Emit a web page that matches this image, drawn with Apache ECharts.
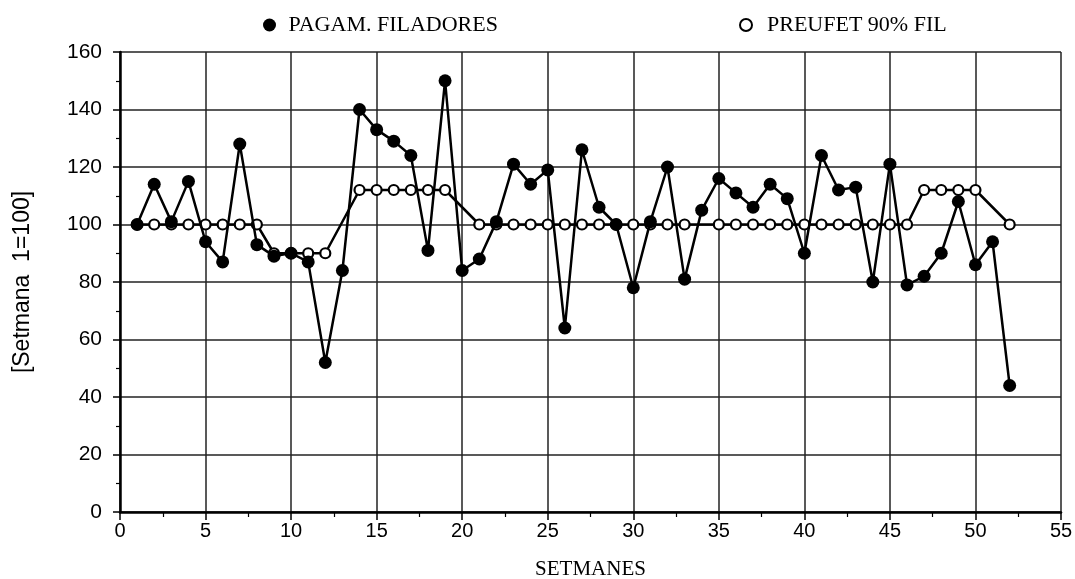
<!DOCTYPE html>
<html>
<head>
<meta charset="utf-8">
<script src="https://cdn.jsdelivr.net/npm/echarts@6/dist/echarts.min.js"></script>
<style>html,body{margin:0;padding:0;background:#fff}#c{width:1075px;height:579px}</style>
</head>
<body>
<div id="c"></div>
<script>
const weeks = [];
for (let i = 1; i <= 52; i++) weeks.push(i);
const pagamFiladores = [100,114,101,115,94,87,128,93,89,90,87,52,84,140,133,129,124,91,150,84,88,101,121,114,119,64,126,106,100,78,101,120,81,105,116,111,106,114,109,90,124,112,113,80,121,79,82,90,108,86,94,44];
const preufet90 = [100,100,100,100,100,100,100,100,90,90,90,90,null,112,112,112,112,112,112,null,100,100,100,100,100,100,100,100,100,100,100,100,100,null,100,100,100,100,100,100,100,100,100,100,100,100,112,112,112,112,null,100];
const seriesNames = ['PAGAM. FILADORES', 'PREUFET 90% FIL'];
const xTitle = 'SETMANES';
const yTitle = '[Setmana  1=100]';

const toPairs = arr => weeks.map((w, i) => [w, arr[i]]);

const chart = echarts.init(document.getElementById('c'), null, {renderer: 'canvas'});
chart.setOption({
  animation: false,
  backgroundColor: '#fff',
  grid: {left: 120, right: 14, top: 52, bottom: 67, containLabel: false, outerBoundsMode: 'none'},
  legend: [
    {data: [{name: seriesNames[0], icon: 'circle'}], left: 258, top: 9, itemWidth: 22, itemHeight: 13,
     textStyle: {fontFamily: 'Liberation Serif', fontSize: 22, color: '#000', padding: [0, 0, 0, 3]}, selectedMode: false},
    {data: [{name: seriesNames[1], icon: 'circle'}], left: 734, top: 9, itemWidth: 22, itemHeight: 12,
     textStyle: {fontFamily: 'Liberation Serif', fontSize: 22, color: '#000', padding: [0, 0, 0, 5]}, selectedMode: false}
  ],
  xAxis: {
    type: 'value', min: 0, max: 55, interval: 5,
    name: xTitle, nameLocation: 'middle', nameGap: 47,
    nameTextStyle: {fontFamily: 'Liberation Serif', fontSize: 21, color: '#000'},
    axisLine: {show: true, onZero: false, lineStyle: {color: '#000', width: 2.5}},
    axisTick: {show: true, length: 8, lineStyle: {color: '#000', width: 1.5}},
    minorTick: {show: true, splitNumber: 2, length: 5, lineStyle: {color: '#000', width: 1.2}},
    axisLabel: {fontFamily: 'Liberation Sans', fontSize: 20, color: '#000', margin: 9},
    splitLine: {show: true, lineStyle: {color: '#222', width: 1.5}}
  },
  yAxis: {
    type: 'value', min: 0, max: 160, interval: 20,
    name: yTitle, nameLocation: 'middle', nameGap: 86, nameRotate: 90,
    nameTextStyle: {fontFamily: 'Liberation Sans', fontSize: 23, color: '#000'},
    axisLine: {show: true, onZero: false, lineStyle: {color: '#000', width: 2.5}},
    axisTick: {show: true, length: 7, lineStyle: {color: '#000', width: 1.5}},
    minorTick: {show: true, splitNumber: 2, length: 4, lineStyle: {color: '#000', width: 1.2}},
    axisLabel: {fontFamily: 'Liberation Sans', fontSize: 21, color: '#000', margin: 18},
    splitLine: {show: true, lineStyle: {color: '#222', width: 1.5}}
  },
  series: [
    {
      name: seriesNames[1], type: 'line', data: toPairs(preufet90), connectNulls: true,
      symbol: 'circle', symbolSize: 10,
      itemStyle: {color: '#fff', borderColor: '#000', borderWidth: 2.2},
      lineStyle: {color: '#000', width: 2.5}, z: 2
    },
    {
      name: seriesNames[0], type: 'line', data: toPairs(pagamFiladores),
      symbol: 'circle', symbolSize: 13,
      itemStyle: {color: '#000', borderColor: '#000', borderWidth: 0},
      lineStyle: {color: '#000', width: 2.5}, z: 3
    }
  ]
});
</script>
</body>
</html>
